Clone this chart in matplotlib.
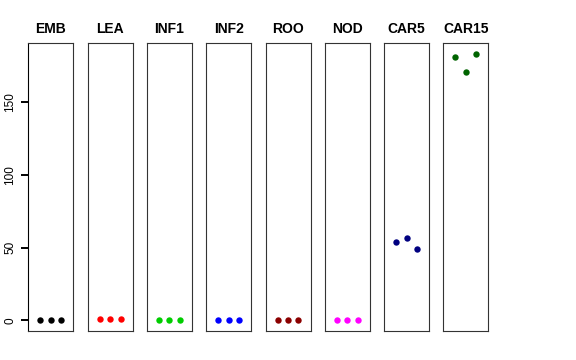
import matplotlib
matplotlib.use("Agg")
import matplotlib.pyplot as plt

plt.rcParams['font.family'] = ['Liberation Sans', 'DejaVu Sans']

tissues = ["EMB", "LEA", "INF1", "INF2", "ROO", "NOD", "CAR5", "CAR15"]
colors = ["black", "red", "#00CD00", "blue", "#8B0000", "magenta", "#000080", "#006400"]
replicates = [1, 2, 3]
values = [
    [0.1, 0.1, 0.1],
    [0.8, 0.8, 0.8],
    [0.0, 0.0, 0.0],
    [0.0, 0.0, 0.0],
    [0.2, 0.2, 0.2],
    [0.05, 0.05, 0.05],
    [53.7, 56.4, 49.0],
    [180.8, 170.9, 183.3],
]
yticks = [0, 50, 100, 150]


def gerar_grafico():
    fig = plt.figure(figsize=(5.76, 3.6), dpi=100)

    todos = [v for grupo in values for v in grupo]
    lo, hi = min(todos), max(todos)
    pad = 0.04 * (hi - lo)

    W, H = 576.0, 360.0
    left0, step, width = 28.3, 59.3, 45.0
    top, bottom = 43.0, 331.0

    for i, (nome, cor, vals) in enumerate(zip(tissues, colors, values)):
        x0 = left0 + i * step
        ax = fig.add_axes([x0 / W, (H - bottom) / H, width / W, (bottom - top) / H])
        ax.plot(replicates, vals, 'o', color=cor, ms=4.6, mec='none')
        ax.set_xlim(-0.16, 4.16)
        ax.set_ylim(lo - pad, hi + pad)
        ax.set_xticks([])
        ax.set_title(nome, fontsize=10, fontweight='bold', pad=7)
        for s in ax.spines.values():
            s.set_linewidth(0.8)
            s.set_color('#333333')
        if i == 0:
            ax.set_yticks(yticks)
            ax.set_yticklabels([str(t) for t in yticks], rotation=90, va='center', fontsize=8.5)
            ax.tick_params(axis='y', direction='out', length=4.8, width=1.4,
                           color='black', pad=4)
            ax.spines['left'].set_color('black')
        else:
            ax.set_yticks([])

    fig.savefig("out.png", dpi=100)


if __name__ == "__main__":
    gerar_grafico()
